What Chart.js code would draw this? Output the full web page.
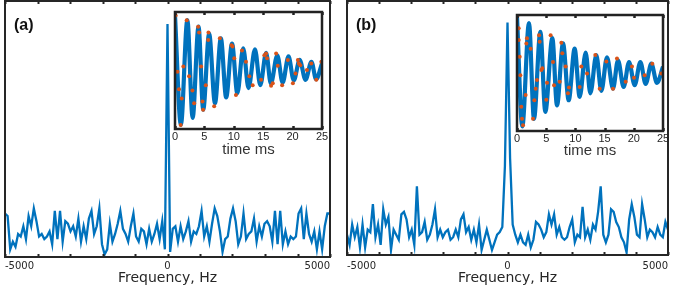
<!DOCTYPE html>
<html>
<head>
<meta charset="utf-8">
<script src="https://cdn.jsdelivr.net/npm/chart.js@4.4.1/dist/chart.umd.min.js"></script>
<style>
  body { margin: 0; background: #fff; }
  #wrap { position: relative; width: 674px; height: 290px; overflow: hidden; }
  canvas { position: absolute; }
  .tag { position: absolute; font: bold 16px "Liberation Sans", Arial, sans-serif; color: #111; }
</style>
</head>
<body>
<div id="wrap">
  <canvas id="mainA" width="337" height="290" style="left:0;top:0"></canvas>
  <canvas id="mainB" width="337" height="290" style="left:337px;top:0"></canvas>
  <canvas id="insetA" width="168" height="160" style="left:165px;top:2px"></canvas>
  <canvas id="insetB" width="167" height="160" style="left:507px;top:3px"></canvas>
  <div class="tag" style="left:14px;top:16px">(a)</div>
  <div class="tag" style="left:356px;top:16px">(b)</div>
</div>
<script>
// spectra, 125 points from -5000 to 5000 Hz
const freqTicks = [-5000, 0, 5000];
const ampA = [
  0.17,0.16,0.03,0.06,0.04,0.09,0.08,0.12,0.07,0.16,
  0.12,0.19,0.14,0.08,0.09,0.07,0.08,0.10,0.05,0.18,
  0.07,0.18,0.06,0.14,0.13,0.10,0.12,0.08,0.15,0.06,
  0.12,0.07,0.15,0.18,0.09,0.12,0.19,0.05,0.01,0.03,
  0.13,0.06,0.09,0.13,0.18,0.11,0.09,0.06,0.12,0.17,
  0.08,0.06,0.11,0.10,0.05,0.11,0.06,0.09,0.13,0.07,
  0.14,0.03,
  0.91,
  0.02,0.11,0.12,0.06,0.12,0.07,0.10,
  0.14,0.06,0.10,0.09,0.12,0.18,0.08,0.12,0.06,0.13,
  0.19,0.16,0.10,0.02,0.07,0.08,0.15,0.19,0.14,0.05,
  0.08,0.17,0.07,0.09,0.10,0.15,0.06,0.12,0.08,0.13,
  0.14,0.12,0.06,0.18,0.05,0.18,0.05,0.10,0.05,0.08,
  0.07,0.08,0.17,0.19,0.07,0.17,0.09,0.06,0.10,0.03,
  0.10,0.03,0.12,0.17,0.17
];
const ampB = [
  0.08,0.04,0.12,0.07,0.11,0.03,0.12,0.03,0.10,0.09,
  0.20,0.07,0.12,0.04,0.18,0.12,0.15,0.02,0.10,0.08,
  0.06,0.16,0.17,0.14,0.07,0.10,0.04,0.27,0.08,0.09,
  0.13,0.06,0.08,0.12,0.18,0.07,0.10,0.07,0.09,0.10,
  0.06,0.07,0.10,0.07,0.14,0.16,0.09,0.11,0.06,0.10,
  0.05,0.12,0.02,0.06,0.10,0.06,0.02,0.05,0.08,0.09,
  0.11,0.35,
  0.915,
  0.38,0.12,0.08,0.05,0.08,0.05,0.04,
  0.08,0.03,0.06,0.13,0.12,0.10,0.07,0.09,0.16,0.12,
  0.16,0.08,0.11,0.07,0.06,0.07,0.11,0.14,0.05,0.08,
  0.07,0.19,0.07,0.10,0.06,0.12,0.10,0.17,0.27,0.08,
  0.05,0.08,0.18,0.17,0.13,0.11,0.07,0.05,0.01,0.14,
  0.20,0.15,0.08,0.07,0.20,0.14,0.07,0.10,0.09,0.07,
  0.11,0.08,0.07,0.13,0.10
];

// inset signals: peaks/troughs of the decay (ms, a.u.)
const timeA = [0,1.0,2.1,3.0,4.0,4.8,5.8,6.8,7.8,8.7,9.7,10.6,11.6,12.5,13.6,14.5,15.5,16.3,17.4,18.3,19.3,20.2,21.2,22.2,23.2,24.0,25];
const sigA  = [0.94,-0.93,0.86,-0.81,0.75,-0.67,0.63,-0.56,0.55,-0.46,0.46,-0.39,0.38,-0.30,0.36,-0.25,0.30,-0.22,0.26,-0.21,0.24,-0.17,0.18,-0.16,0.15,-0.15,0.12];
const timeB = [0,0.91,2.05,2.91,4.0,4.85,6.05,6.85,7.88,8.85,9.87,10.73,11.76,12.56,13.58,14.44,15.41,16.44,17.29,18.26,19.18,20.15,21.12,22.03,23.0,23.97,25];
const sigB  = [0.97,-0.92,0.86,-0.79,0.71,-0.67,0.60,-0.56,0.51,-0.47,0.42,-0.41,0.35,-0.35,0.31,-0.31,0.27,-0.27,0.22,-0.24,0.19,-0.21,0.19,-0.19,0.16,-0.17,0.11];

// sampled points (orange)
const dotTA = [0.11,1.99,3.93,4.10,5.69,5.64,0.40,1.42,2.39,0.68,1.14,0.97,2.96,3.25,4.44,4.67,4.78,5.24,6.66,7.63,9.62,9.79,10.08,10.36,11.39,12.07,12.64,13.21,14.64,15.2,15.49,15.66,16.34,16.63,17.2,17.48,18.22,19.19,20.05,20.5,20.9,21.07,21.3,22.44,23.18,24.03,24.89];
const dotVA = [0.94,0.86,0.75,0.65,0.65,0.52,-0.02,0.07,-0.10,-0.32,-0.48,-0.93,-0.34,-0.56,0.07,-0.53,-0.67,-0.25,-0.61,0.55,0.43,0.41,0.21,-0.42,0.34,0.15,-0.10,-0.25,-0.16,0.26,0.29,0.21,-0.26,-0.22,0.29,0.08,-0.25,0.18,-0.22,-0.05,0.18,0.12,0.09,0.01,0.12,-0.16,0.15];
const dotTB = [0.17,0.29,0.29,0.46,0.57,0.74,0.86,1.03,1.48,1.6,1.71,2.34,2.74,2.97,3.2,3.42,3.77,3.88,4.17,4.34,5.02,5.14,5.76,6.16,6.34,7.31,7.59,7.76,8.33,8.73,8.9,10.73,11.02,11.99,13.41,14.16,15.30,16.44,17.12,18.61,19.69,20.03,21.86,23.17,24.71];
const dotVB = [1.0,0.77,0.57,0.28,-0.04,-0.58,-0.79,-0.90,-0.38,0.51,0.60,0.42,-0.79,-0.47,-0.27,-0.12,0.65,0.54,0.05,0.08,-0.46,-0.17,0.65,0.19,-0.21,-0.15,0.52,0.34,0.11,-0.35,-0.25,-0.24,0.11,-0.01,0.31,-0.27,0.20,-0.27,0.25,-0.15,0.11,-0.08,-0.04,0.16,-0.01];

const BLUE = '#0072BD';
const ORANGE = '#D95319';
const INK = '#262626';

const freqs = ampA.map((_, i) => -5000 + i * 10000 / (ampA.length - 1));
const pts = (xs, ys) => xs.map((x, i) => ({ x: x, y: ys[i] }));

// box + inward ticks like matlab axes
const framePlugin = {
  id: 'frame',
  beforeDraw(chart, args, opts) {
    if (!opts.fill) return;
    const a = chart.chartArea;
    chart.ctx.save();
    chart.ctx.fillStyle = '#fff';
    chart.ctx.fillRect(a.left, a.top, a.right - a.left, a.bottom - a.top);
    chart.ctx.restore();
  },
  afterDraw(chart, args, opts) {
    const { ctx, chartArea: a } = chart;
    const x = chart.scales.x;
    ctx.save();
    ctx.strokeStyle = opts.color;
    ctx.lineWidth = opts.width;
    ctx.beginPath();
    x.ticks.forEach(t => {
      const px = Math.round(x.getPixelForValue(t.value)) + 0.5;
      ctx.moveTo(px, a.bottom); ctx.lineTo(px, a.bottom - opts.len);
      ctx.moveTo(px, a.top); ctx.lineTo(px, a.top + opts.len);
    });
    ctx.stroke();
    ctx.strokeRect(a.left, a.top, a.right - a.left, a.bottom - a.top);
    ctx.restore();
  }
};

function mainChart(id, amp, pad, tickPad, axisH) {
  return new Chart(document.getElementById(id), {
    type: 'line',
    data: {
      datasets: [{
        data: pts(freqs, amp),
        borderColor: BLUE,
        borderWidth: 2.3,
        pointRadius: 0,
        tension: 0
      }]
    },
    options: {
      responsive: false,
      animation: false,
      layout: { padding: pad },
      plugins: {
        legend: { display: false },
        tooltip: { enabled: false },
        frame: { color: INK, width: 2, len: 3 }
      },
      scales: {
        x: {
          type: 'linear', min: -5000, max: 5000,
          grid: { display: false, drawTicks: false },
          border: { display: false },
          afterFit: s => { s.height = axisH; },
          ticks: {
            stepSize: 1000, autoSkip: false, maxRotation: 0, align: 'inner',
            padding: tickPad, color: INK,
            font: { family: 'DejaVu Sans', size: 10, lineHeight: 1 },
            callback: v => freqTicks.includes(v) ? String(v) : ''
          },
          title: {
            display: true, text: 'Frequency, Hz', color: INK,
            font: { family: 'DejaVu Sans', size: 14, lineHeight: 1 },
            padding: { top: 0, bottom: 0 }
          }
        },
        y: { display: false, min: 0, max: 1 }
      }
    },
    plugins: [framePlugin]
  });
}

function insetChart(id, tLine, vLine, tDot, vDot, pad, axisH) {
  return new Chart(document.getElementById(id), {
    type: 'line',
    data: {
      datasets: [{
        type: 'scatter',
        data: pts(tDot, vDot),
        backgroundColor: ORANGE,
        borderWidth: 0,
        pointRadius: 2,
        order: 0
      }, {
        data: pts(tLine, vLine),
        borderColor: BLUE,
        borderWidth: 4.2,
        pointRadius: 0,
        cubicInterpolationMode: 'monotone',
        order: 1
      }]
    },
    options: {
      responsive: false,
      animation: false,
      layout: { padding: pad },
      plugins: {
        legend: { display: false },
        tooltip: { enabled: false },
        frame: { color: '#222', width: 2.5, len: 3, fill: true }
      },
      scales: {
        x: {
          type: 'linear', min: 0, max: 25,
          grid: { display: false, drawTicks: false },
          border: { display: false },
          afterFit: s => { s.height = axisH; },
          ticks: {
            stepSize: 5, maxRotation: 0, padding: 2, color: INK,
            font: { family: 'Liberation Sans', size: 11, lineHeight: 1 }
          },
          title: {
            display: true, text: 'time ms', color: '#333',
            font: { family: 'Liberation Sans', size: 15, lineHeight: 1 },
            padding: { top: 0, bottom: 0 }
          }
        },
        y: { display: false, min: -1, max: 1 }
      }
    },
    plugins: [framePlugin]
  });
}

mainChart('mainA', ampA, { left: 5, right: 7, top: 1, bottom: 5 }, 4, 28);
mainChart('mainB', ampB, { left: 10, right: 5, top: 1, bottom: 5 }, 6, 30);
insetChart('insetA', timeA, sigA, dotTA, dotVA, { left: 10, right: 11, top: 10, bottom: 5 }, 28);
insetChart('insetB', timeB, sigB, dotTB, dotVB, { left: 10, right: 11, top: 12, bottom: 5 }, 27);
</script>
</body>
</html>
